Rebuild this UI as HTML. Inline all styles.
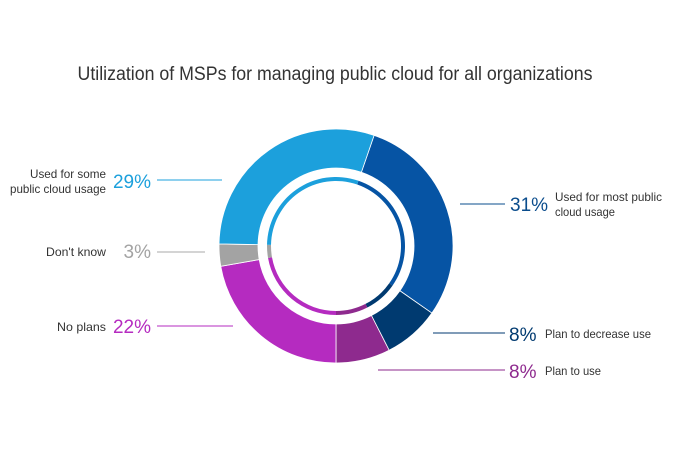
<!DOCTYPE html>
<html><head><meta charset="utf-8"><style>
body{margin:0;background:#fff;}
svg{display:block;font-family:"Liberation Sans",sans-serif;}
</style></head><body>
<svg id="s" width="690" height="458" viewBox="0 0 690 458">
<text x="335" y="80" text-anchor="middle" font-size="19" fill="#333" textLength="515" lengthAdjust="spacingAndGlyphs">Utilization of MSPs for managing public cloud for all organizations</text>
<g id="d"></g>
<g font-size="12" fill="#333">
<text x="106" y="178" text-anchor="end" textLength="76" lengthAdjust="spacingAndGlyphs">Used for some</text>
<text x="106" y="193" text-anchor="end" textLength="96" lengthAdjust="spacingAndGlyphs">public cloud usage</text>
<text x="106" y="256" text-anchor="end" textLength="60" lengthAdjust="spacingAndGlyphs">Don't know</text>
<text x="106" y="331" text-anchor="end" textLength="49" lengthAdjust="spacingAndGlyphs">No plans</text>
<text x="555" y="201" textLength="107" lengthAdjust="spacingAndGlyphs">Used for most public</text>
<text x="555" y="216" textLength="60" lengthAdjust="spacingAndGlyphs">cloud usage</text>
<text x="545" y="338" textLength="106" lengthAdjust="spacingAndGlyphs">Plan to decrease use</text>
<text x="545" y="375" textLength="56" lengthAdjust="spacingAndGlyphs">Plan to use</text>
</g>
<g font-size="19">
<text x="151" y="188" text-anchor="end" fill="#1ca0dc">29%</text>
<text x="151" y="258" text-anchor="end" fill="#a3a3a3">3%</text>
<text x="151" y="333" text-anchor="end" fill="#b52bc0">22%</text>
<text x="510" y="211" fill="#0a4c8c">31%</text>
<text x="509" y="341" fill="#003a70">8%</text>
<text x="509" y="378" fill="#8e2a8e">8%</text>
</g>
<g stroke-width="1">
<line x1="157" y1="180" x2="222" y2="180" stroke="#1ca0dc"/>
<line x1="157" y1="252" x2="205" y2="252" stroke="#aaa"/>
<line x1="157" y1="326" x2="233" y2="326" stroke="#b52bc0"/>
<line x1="460" y1="204" x2="505" y2="204" stroke="#0a4c8c"/>
<line x1="433" y1="333" x2="505" y2="333" stroke="#003a70"/>
<line x1="378" y1="370" x2="505" y2="370" stroke="#8e2a8e"/>
</g>
</svg>
<script>
var cx=336,cy=246;
function p(a,r){a=(a-90)*Math.PI/180;return [cx+r*Math.cos(a),cy+r*Math.sin(a)];}
function arc(a0,a1,R,r){var l=(a1-a0)>180?1:0,A=p(a0,R),B=p(a1,R),C=p(a1,r),D=p(a0,r);
return "M"+A+"A"+R+","+R+" 0 "+l+" 1 "+B+"L"+C+"A"+r+","+r+" 0 "+l+" 0 "+D+"Z";}
var segs=[[19,125,"#0654a4"],[125,153,"#003a70"],[153,180,"#8e2a8e"],[180,260,"#b52bc0"],[260,271,"#a3a3a3"],[271,379,"#1ca0dc"]];
var h="";
segs.forEach(function(s){h+='<path d="'+arc(s[0],s[1],117,78)+'" fill="'+s[2]+'" stroke="#fff" stroke-width="0.8"/>';
h+='<path d="'+arc(s[0],s[1],69,65)+'" fill="'+s[2]+'"/>';});
document.getElementById("d").innerHTML=h;
</script>
</body></html>
